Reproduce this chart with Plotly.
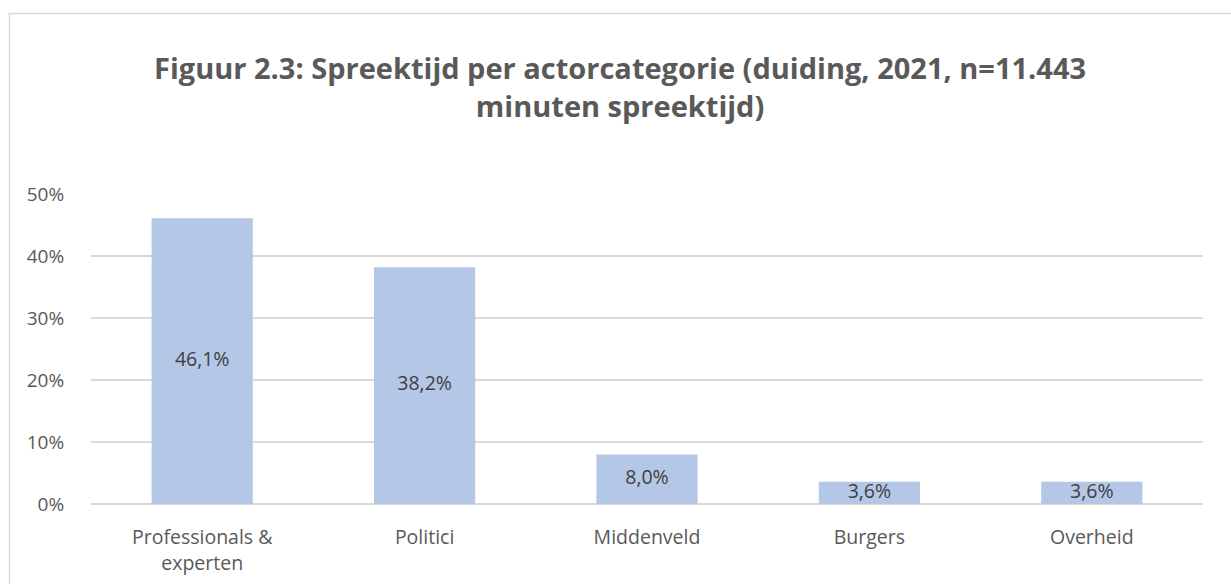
import plotly.graph_objects as go

categories = ["Professionals &<br>experten", "Politici", "Middenveld", "Burgers", "Overheid"]
values = [46.1, 38.2, 8.0, 3.6, 3.6]
labels = [f"{v:.1f}%".replace(".", ",") for v in values]
y_ticks = [0, 10, 20, 30, 40, 50]
y_ticklabels = [f"{t}%" for t in y_ticks]

title_text = "Figuur 2.3: Spreektijd per actorcategorie (duiding, 2021, n=11.443<br>minuten spreektijd)"

BAR = "#B4C7E7"
GRID = "#D9D9D9"
TXT = "#595959"

fig = go.Figure()
fig.add_trace(go.Bar(
    x=categories, y=values, marker=dict(color=BAR, line=dict(width=0)),
    hoverinfo="skip", showlegend=False,
))
fig.add_trace(go.Scatter(
    x=categories, y=[v / 2 for v in values], text=labels, mode="text",
    textfont=dict(family="Open Sans", size=19.5, color="#404040"),
    hoverinfo="skip", showlegend=False,
))

L, R, T, B = 91, 28, 194, 80
W, H = 1231, 584
pw, ph = W - L - R, H - T - B

def py(p):
    return (H - B - p) / ph

def px(p):
    return (p - L) / pw

fig.update_layout(
    width=W, height=H,
    margin=dict(l=L, r=R, t=T, b=B, pad=0),
    paper_bgcolor="white", plot_bgcolor="white",
    bargap=0.545,
    font=dict(family="Open Sans", color=TXT),
    annotations=[dict(
        text=title_text, xref="paper", yref="paper", x=px(620), y=py(86.5),
        xanchor="center", yanchor="middle", showarrow=False, align="center",
        font=dict(family="Open Sans", size=29, color=TXT, weight="bold"),
    )],
    xaxis=dict(
        showgrid=False, showline=False, zeroline=False, automargin=False,
        ticks="outside", ticklen=16, tickcolor="rgba(0,0,0,0)",
        tickfont=dict(size=19.5, color=TXT), fixedrange=True,
    ),
    yaxis=dict(
        range=[0, 50], tickvals=y_ticks, ticktext=y_ticklabels, automargin=False,
        showgrid=True, gridcolor=GRID, gridwidth=1.5,
        zeroline=True, zerolinecolor=GRID, zerolinewidth=1.5,
        showline=False, ticks="outside", ticklen=22, tickcolor="rgba(0,0,0,0)",
        tickfont=dict(size=19, color=TXT), fixedrange=True,
    ),
    shapes=[dict(
        type="rect", xref="paper", yref="paper",
        x0=px(9.5), x1=px(W + 10),
        y0=py(H + 10), y1=py(13.5),
        line=dict(color="#D9D9D9", width=1.5), fillcolor="rgba(0,0,0,0)", layer="below",
    )],
)

fig.write_html("out.html", config={"displayModeBar": False},
               post_script="document.body.style.margin='0';document.body.style.overflow='hidden';")
